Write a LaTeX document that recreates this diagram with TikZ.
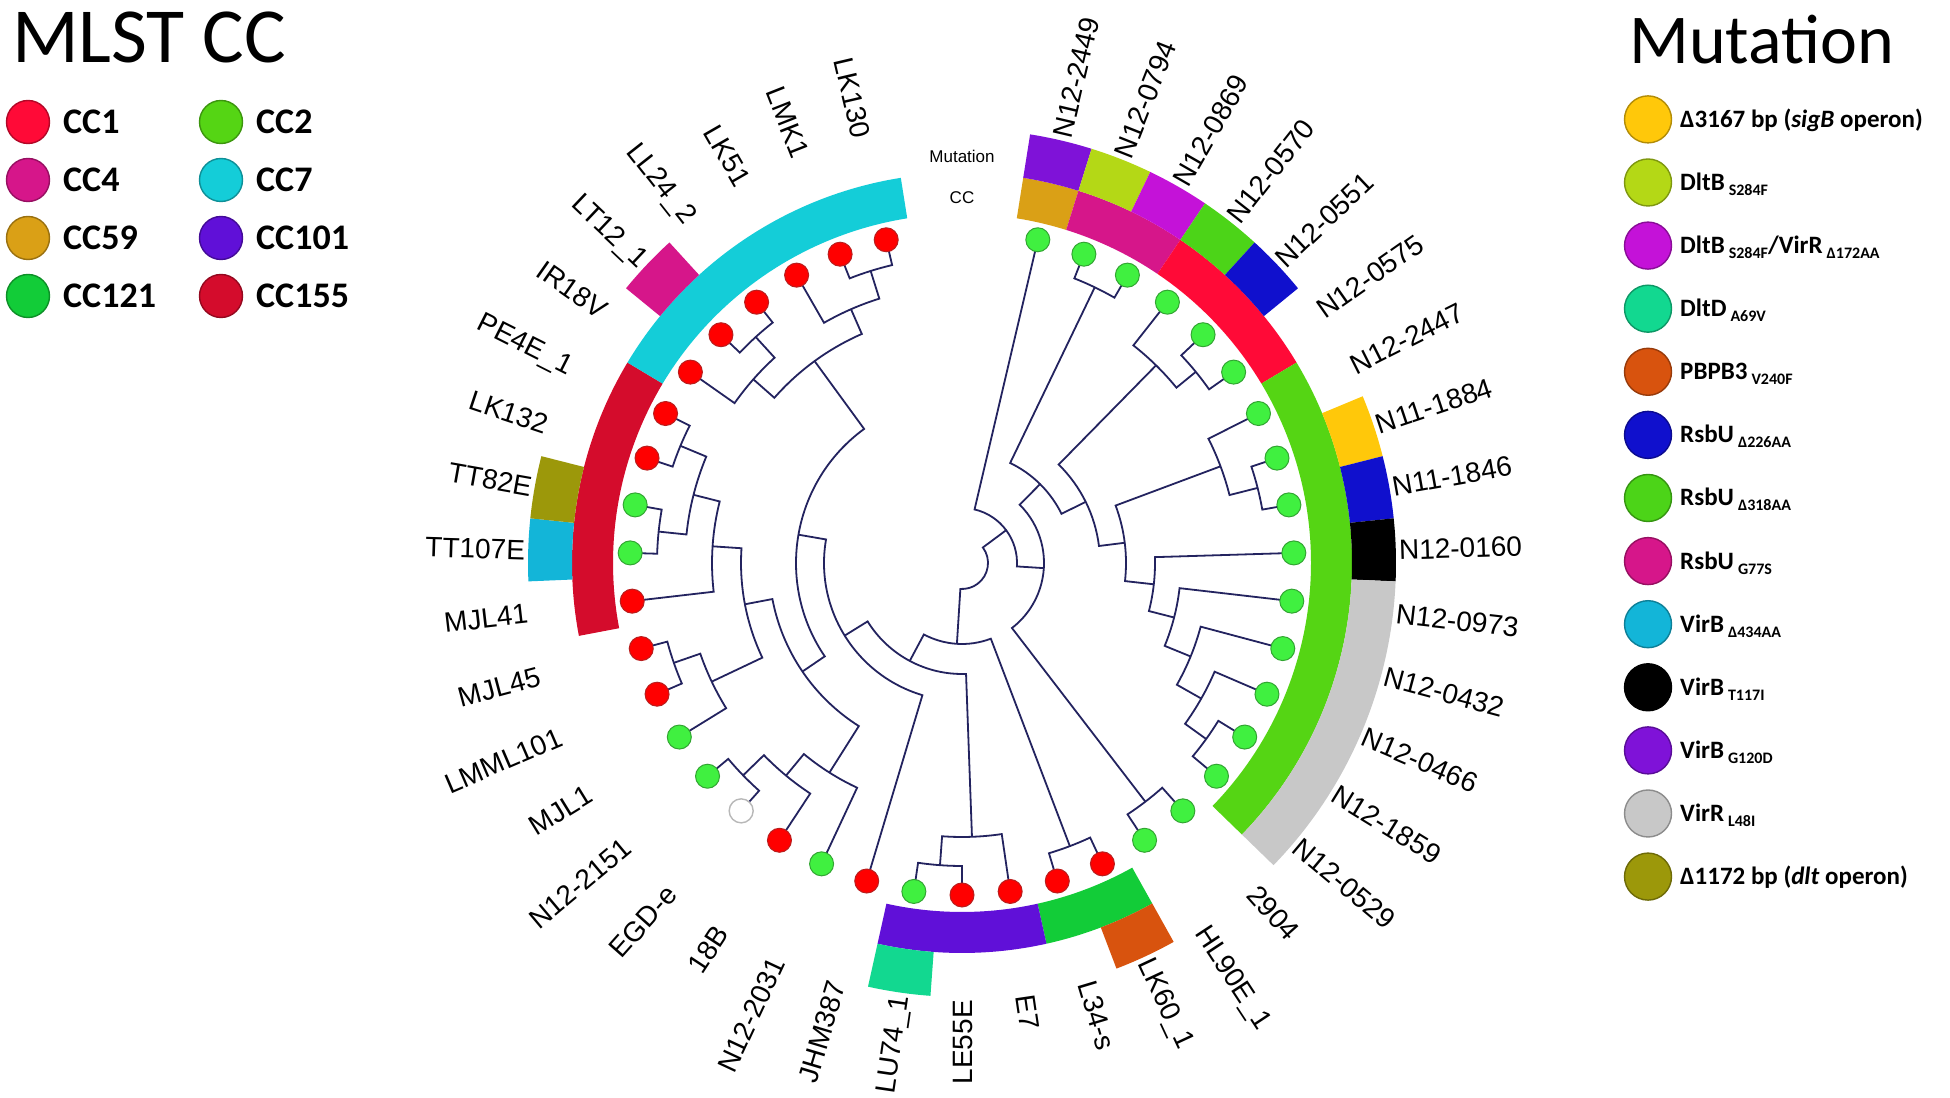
\documentclass[tikz,border=0pt]{standalone}
\usepackage{fontspec}
\setmainfont{Liberation Sans}
\newfontfamily\carlito{Carlito}
\definecolor{branchc}{RGB}{35,35,95}
\definecolor{dotred}{RGB}{255,0,0}
\definecolor{dotredb}{RGB}{185,30,30}
\definecolor{dotgreen}{RGB}{64,240,64}
\definecolor{dotgreenb}{RGB}{50,165,50}
\definecolor{ccone}{RGB}{255,10,55}
\definecolor{cctwo}{RGB}{85,213,20}
\definecolor{ccfour}{RGB}{214,22,138}
\definecolor{ccseven}{RGB}{20,205,216}
\definecolor{ccfiftynine}{RGB}{218,160,22}
\definecolor{cconeohone}{RGB}{96,16,216}
\definecolor{cconetwoone}{RGB}{18,204,56}
\definecolor{cconefivefive}{RGB}{212,12,44}
\definecolor{msigb}{RGB}{255,200,10}
\definecolor{mdltb}{RGB}{180,216,22}
\definecolor{mdltbvirr}{RGB}{196,18,216}
\definecolor{mdltd}{RGB}{18,216,144}
\definecolor{mpbp}{RGB}{216,83,14}
\definecolor{mrsbua}{RGB}{16,16,205}
\definecolor{mrsbub}{RGB}{76,212,24}
\definecolor{mrsbuc}{RGB}{214,22,138}
\definecolor{mvirba}{RGB}{19,181,216}
\definecolor{mvirbb}{RGB}{0,0,0}
\definecolor{mvirbc}{RGB}{127,18,216}
\definecolor{mvirr}{RGB}{200,200,200}
\definecolor{mdlt}{RGB}{156,152,10}
\newcommand\brnode[4]{%
  \edef\brA{\csname ang@#3\endcsname}%
  \edef\brB{\csname ang@#4\endcsname}%
  \edef\brRA{\csname rad@#3\endcsname}%
  \edef\brRB{\csname rad@#4\endcsname}%
  \pgfmathsetmacro\brM{(\brA+\brB)/2}%
  \expandafter\xdef\csname ang@#1\endcsname{\brM}%
  \expandafter\xdef\csname rad@#1\endcsname{#2}%
  \draw[branch] (\brA:\brRA) -- (\brA:#2) arc[start angle=\brA, end angle=\brB, radius=#2] -- (\brB:\brRB);%
}
\newcommand\ringseg[5]{%
  \pgfmathsetmacro\rgA{76.8-8.34*(#2)+4.17}%
  \pgfmathsetmacro\rgB{76.8-8.34*(#3)-4.17}%
  \fill[#1] (\rgA:#4) arc[start angle=\rgA, end angle=\rgB, radius=#4] -- (\rgB:#5) arc[start angle=\rgB, end angle=\rgA, radius=#5] -- cycle;%
}
\newcommand\sbt[1]{\hspace{4pt}\raisebox{-5pt}{\fontsize{16}{16}\selectfont #1}}
\begin{document}
\begin{tikzpicture}[x=1pt,y=1pt,
  branch/.style={draw=branchc, line width=1.8pt},
  rdot/.style={fill=dotred, draw=dotredb, line width=1pt},
  gdot/.style={fill=dotgreen, draw=dotgreenb, line width=1pt},
  wdot/.style={fill=white, draw=black!28, line width=1.4pt},
  tiplab/.style={font=\fontsize{28}{30}\selectfont, inner sep=0pt, text height=20pt, text depth=0pt},
  lcirc/.style={circle, minimum size=43pt, inner sep=0pt, line width=1.4pt},
  ltext/.style={font=\carlito\bfseries\fontsize{36}{38}\selectfont, inner sep=0pt},
  mcirc/.style={circle, minimum size=47pt, inner sep=0pt, line width=1.4pt},
  mtext/.style={font=\carlito\bfseries\fontsize{25}{27}\selectfont, inner sep=0pt}]
\fill[white] (0,0) rectangle (1950,1097);
\useasboundingbox (0,0) rectangle (1950,1097);
% titles
\node[anchor=base west, inner sep=0pt, font=\carlito\fontsize{78}{80}\selectfont] (ttl) at (12,1034) {MLST CC};
\node[anchor=base west, inner sep=0pt, font=\carlito\fontsize{70}{72}\selectfont] (ttr) at (1629,1033) {Mutation};
% left legend
\foreach \cx/\cy/\col/\txt/\nm in {28/975/ccone/CC1/a, 28/917/ccfour/CC4/b, 28/859/ccfiftynine/CC59/c, 28/801/cconetwoone/CC121/d, 221/975/cctwo/CC2/e, 221/917/ccseven/CC7/f, 221/859/cconeohone/CC101/g, 221/801/cconefivefive/CC155/h}{
  \node[lcirc, fill=\col, draw=\col!70!black] (lc\nm) at (\cx,\cy) {};
  \node[ltext, anchor=west] (lt\nm) at (\cx+35,\cy) {\txt};
}
% right legend
\foreach \k/\col/\txt in {0/msigb/{Δ3167 bp (\textit{sigB} operon)}, 1/mdltb/{DltB\sbt{S284F}}, 2/mdltbvirr/{DltB\sbt{S284F}/VirR\sbt{Δ172AA}}, 3/mdltd/{DltD\sbt{A69V}}, 4/mpbp/{PBPB3\sbt{V240F}}, 5/mrsbua/{RsbU\sbt{Δ226AA}}, 6/mrsbub/{RsbU\sbt{Δ318AA}}, 7/mrsbuc/{RsbU\sbt{G77S}}, 8/mvirba/{VirB\sbt{Δ434AA}}, 9/mvirbb/{VirB\sbt{T117I}}, 10/mvirbc/{VirB\sbt{G120D}}, 11/mvirr/{VirR\sbt{L48I}}, 12/mdlt/{Δ1172 bp (\textit{dlt} operon)}}{
  \pgfmathsetmacro\ly{977.6-63.1*\k}
  \node[mcirc, fill=\col, draw=\col!70!black] (mc\k) at (1648,\ly) {};
  \node[mtext, anchor=base west] (mt\k) at (1680,\ly-8) {\txt};
}
\begin{scope}[shift={(962,534)}]
% rings
\ringseg{ccfiftynine}{0}{0}{349}{390}
\ringseg{ccfour}{1}{2}{349}{390}
\ringseg{ccone}{3}{5}{349}{390}
\ringseg{cctwo}{6}{14}{349}{390}
\ringseg{cconetwoone}{17}{18}{349}{390}
\ringseg{cconeohone}{19}{21}{349}{390}
\ringseg{cconefivefive}{30}{34}{349}{390}
\ringseg{ccseven}{35}{40}{349}{390}
\ringseg{mvirbc}{0}{0}{390}{434}
\ringseg{mdltb}{1}{1}{390}{434}
\ringseg{mdltbvirr}{2}{2}{390}{434}
\ringseg{mrsbub}{3}{3}{390}{434}
\ringseg{mrsbua}{4}{4}{390}{434}
\ringseg{msigb}{7}{7}{390}{434}
\ringseg{mrsbua}{8}{8}{390}{434}
\ringseg{mvirbb}{9}{9}{390}{434}
\ringseg{mvirr}{10}{14}{390}{434}
\ringseg{mpbp}{17}{17}{390}{434}
\ringseg{mdltd}{21}{21}{390}{434}
\ringseg{mvirba}{31}{31}{390}{434}
\ringseg{mdlt}{32}{32}{390}{434}
\ringseg{mrsbuc}{36}{36}{390}{434}
\node[font=\fontsize{17}{18}\selectfont, inner sep=0pt] (mutlab) at (0,407) {Mutation};
\node[font=\fontsize{17}{18}\selectfont, inner sep=0pt] (cclab) at (0,365) {CC};
% leaf angles
\foreach \i in {0,...,40}{%
  \pgfmathsetmacro\tang{76.8-8.34*\i}%
  \expandafter\xdef\csname ang@t\i\endcsname{\tang}%
  \expandafter\xdef\csname rad@t\i\endcsname{332}%
}
% tree
\brnode{Z}{306}{t1}{t2}
\brnode{Ca}{302}{t4}{t5}
\brnode{Cb}{277}{t3}{Ca}
\brnode{Ea}{305}{t7}{t8}
\brnode{E}{276}{t6}{Ea}
\brnode{J}{301}{t13}{t14}
\brnode{I}{275}{t12}{J}
\brnode{H}{247}{t11}{I}
\brnode{G}{219}{t10}{H}
\brnode{F}{193}{t9}{G}
\brnode{D}{164}{E}{F}
\brnode{C}{138}{Cb}{D}
\brnode{B}{111}{Z}{C}
\brnode{Y}{301}{t15}{t16}
\brnode{K}{82}{B}{Y}
\brnode{A}{55}{t0}{K}
\brnode{V}{303}{t17}{t18}
\brnode{Ua}{303}{t20}{t21}
\brnode{U}{274}{t19}{Ua}
\brnode{Pa}{306}{t39}{t40}
\brnode{Pb}{277}{t38}{Pa}
\brnode{Pc}{306}{t36}{t37}
\brnode{Pd}{278}{t35}{Pc}
\brnode{Pe}{250}{Pd}{Pb}
\brnode{Qa}{305}{t33}{t34}
\brnode{Qb}{305}{t31}{t32}
\brnode{Qc}{277}{Qb}{Qa}
\brnode{Qd}{250}{t30}{Qc}
\brnode{Qe}{305}{t28}{t29}
\brnode{Qf}{277}{t27}{Qe}
\brnode{Qg}{221}{Qf}{Qd}
\brnode{Ra}{305}{t25}{t26}
\brnode{Rb}{276}{t24}{Ra}
\brnode{Rc}{248}{t23}{Rb}
\brnode{M}{193}{Rc}{Qg}
\brnode{L}{166}{M}{Pe}
\brnode{S}{138}{t22}{L}
\brnode{T}{111}{U}{S}
\brnode{W}{81}{V}{T}
\brnode{X}{26}{A}{W}
% tips and labels
\foreach \i/\lab/\dc in {0/N12-2449/gdot, 1/N12-0794/gdot, 2/N12-0869/gdot, 3/N12-0570/gdot, 4/N12-0551/gdot, 5/N12-0575/gdot, 6/N12-2447/gdot, 7/N11-1884/gdot, 8/N11-1846/gdot, 9/N12-0160/gdot, 10/N12-0973/gdot, 11/N12-0432/gdot, 12/N12-0466/gdot, 13/N12-1859/gdot, 14/N12-0529/gdot, 15/2904/gdot, 16/HL90E\_1/gdot, 17/LK60\_1/rdot, 18/L34-s/rdot, 19/E7/rdot, 20/LE55E/rdot, 21/LU74\_1/gdot, 22/JHM387/rdot, 23/N12-2031/gdot, 24/18B/rdot, 25/EGD-e/wdot, 26/N12-2151/gdot, 27/MJL1/gdot, 28/LMML101/rdot, 29/MJL45/rdot, 30/MJL41/rdot, 31/TT107E/gdot, 32/TT82E/gdot, 33/LK132/rdot, 34/PE4E\_1/rdot, 35/IR18V/rdot, 36/LT12\_1/rdot, 37/LL24\_2/rdot, 38/LK51/rdot, 39/LMK1/rdot, 40/LK130/rdot}{
  \pgfmathsetmacro\tang{76.8-8.34*\i}
  \path[\dc] (\tang:332) circle[radius=12];
  \ifnum\i<20
    \node[tiplab, anchor=west, rotate=\tang] (lab\i) at (\tang:437) {\lab};
  \else
    \pgfmathsetmacro\trot{\tang+180}
    \node[tiplab, anchor=east, rotate=\trot] (lab\i) at (\tang:437) {\lab};
  \fi
}
\end{scope}
\end{tikzpicture}
\end{document}
